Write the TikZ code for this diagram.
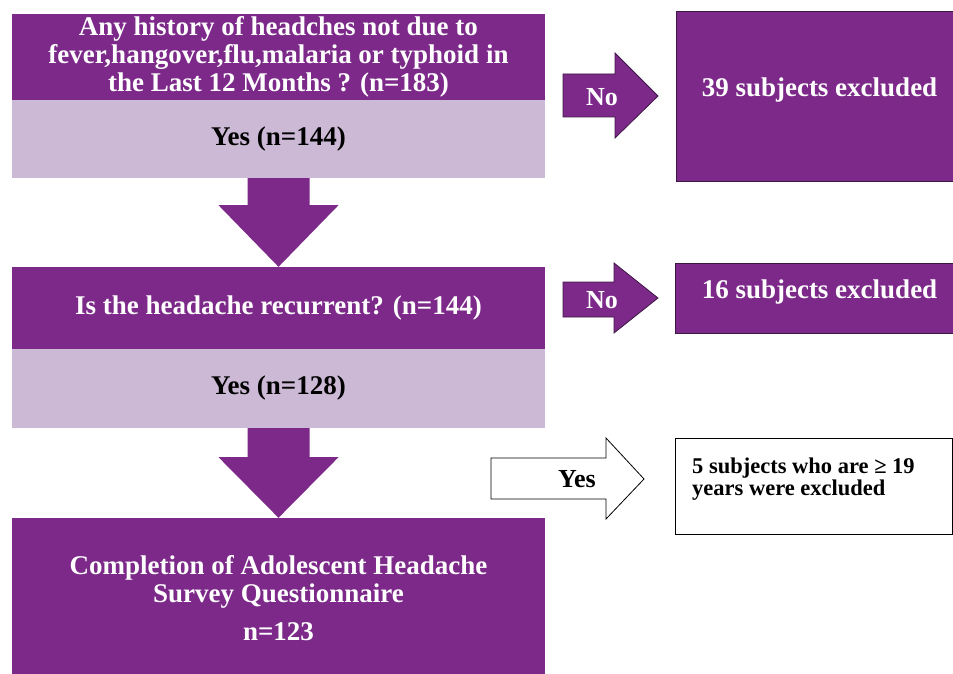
\documentclass[tikz,border=0pt]{standalone}
\usepackage{fontspec}
\setmainfont{Liberation Serif}
\usetikzlibrary{calc}
\definecolor{hpurple}{RGB}{124,41,137}
\definecolor{hlav}{RGB}{203,185,213}
\definecolor{hdark}{RGB}{62,24,68}
\begin{document}
\begin{tikzpicture}[x=1pt,y=-1pt,
  bigfont/.style={font=\fontsize{27}{28}\selectfont\bfseries},
  qbox/.style={fill=hpurple, draw=none, text=white, inner sep=0pt, align=center, bigfont, minimum width=533pt},
  ybox/.style={fill=hlav, draw=none, text=black, inner sep=0pt, bigfont, minimum width=533pt},
  exbox/.style={fill=hpurple, draw=hdark, line width=1pt, inner sep=0pt},
  extext/.style={text=white, bigfont, inner sep=0pt},
  downarrow/.style={fill=hpurple, draw=none},
  noarrow/.style={fill=hpurple, draw=hdark, line width=0.8pt},
  yesarrow/.style={fill=white, draw=black, line width=0.8pt},
  arrowtext/.style={font=\fontsize{26}{28}\selectfont\bfseries, inner sep=0pt}
]
\useasboundingbox (0,0) rectangle (953,674);

% left column
\node[qbox, minimum height=86pt] (q1) at (278.5,57) {Any history of headches not due to\\fever,hangover,flu,malaria or typhoid in\\the Last 12 Months ? (n=183)};
\node[ybox, minimum height=78pt] (y1) at (278.5,139) {Yes (n=144)};
\node[qbox, minimum height=82pt] (q2) at (278.5,308) {Is the headache recurrent? (n=144)};
\node[ybox, minimum height=79pt] (y2) at (278.5,388.5) {Yes (n=128)};
\node[qbox, minimum height=156pt] (fin) at (278.5,596) {};
\node[text=white, align=center, bigfont, inner sep=0pt] (fint) at (278.5,598) {Completion of Adolescent Headache\\Survey Questionnaire\\[10pt]n=123};

% down arrows
\draw[downarrow] ($(y1.south)+(-31,0)$) -- ($(y1.south)+(31,0)$) -- ($(y1.south)+(31,27)$) -- ($(y1.south)+(60,27)$) -- (q2.north) -- ($(y1.south)+(-60,27)$) -- ($(y1.south)+(-31,27)$) -- cycle;
\draw[downarrow] ($(y2.south)+(-31,0)$) -- ($(y2.south)+(31,0)$) -- ($(y2.south)+(31,29)$) -- ($(y2.south)+(60,29)$) -- (fin.north) -- ($(y2.south)+(-60,29)$) -- ($(y2.south)+(-31,29)$) -- cycle;

% right column boxes
\node[exbox, minimum width=277pt, minimum height=169pt] (ex1) at (814.5,96.5) {};
\node[extext] (ex1t) at (819.5,90) {39 subjects excluded};
\node[exbox, minimum width=278pt, minimum height=70pt] (ex2) at (814,298) {};
\node[extext] (ex2t) at (819.5,292) {16 subjects excluded};
\node[fill=white, draw=black, line width=1pt, minimum width=277pt, minimum height=96pt] (ex3) at (813.5,486) {};
\node[anchor=west, align=left, inner sep=0pt, font=\fontsize{22.5}{22.5}\selectfont\bfseries] (ex3t) at (692,479) {5 subjects who are ≥ 19\\years were excluded};

% side arrows
\coordinate (n1tip) at (658,96);
\draw[noarrow] (563,74) -- (615,74) -- (615,53) -- (n1tip) -- (615,138) -- (615,117) -- (563,117) -- cycle;
\node[arrowtext, text=white] (no1) at (602,97) {No};
\coordinate (n2tip) at (658,298);
\draw[noarrow] (563,282) -- (614,282) -- (614,263) -- (n2tip) -- (614,333) -- (614,317) -- (563,317) -- cycle;
\node[arrowtext, text=white] (no2) at (602,300) {No};
\coordinate (y3tip) at (644,479);
\draw[yesarrow] (491,458) -- (606,458) -- (606,438) -- (y3tip) -- (606,519) -- (606,499) -- (491,499) -- cycle;
\node[arrowtext, text=black] (yes3) at (577,479) {Yes};
\end{tikzpicture}
\end{document}
